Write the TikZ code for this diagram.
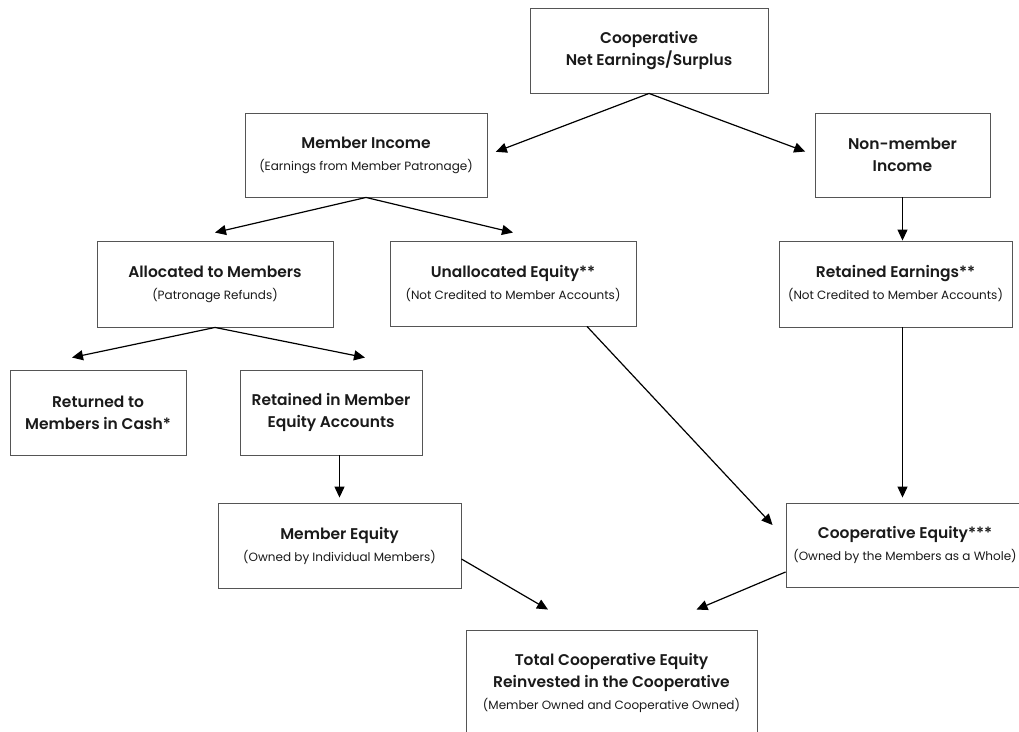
\documentclass[tikz,border=0pt]{standalone}
\usepackage{fontspec}
\setmainfont{Poppins}[BoldFont={Poppins SemiBold}]
\usetikzlibrary{arrows.meta,calc}
\definecolor{boxgray}{HTML}{555555}
\definecolor{inkblack}{HTML}{1A1A1A}
\newcommand{\ttl}[1]{{\fontsize{15.5}{22}\selectfont\bfseries #1}}
\tikzset{
  box/.style={draw=boxgray, line width=0.9pt, align=center, text=inkblack,
    font=\fontsize{12}{22}\selectfont, inner sep=2pt},
  arr/.style={-{Triangle[length=11pt,width=10pt]}, line width=1.2pt, black}
}
\begin{document}
\begin{tikzpicture}[x=1pt,y=-1pt]
  \clip (0,0) rectangle (1019,731);
  \fill[white] (0,0) rectangle (1019,731);
  % boxes, placed at their centres
  \node[box, minimum width=238pt, minimum height=85pt] (net) at (649,50.5)
    {\ttl{Cooperative}\\\ttl{Net Earnings/Surplus}};
  \node[box, minimum width=242pt, minimum height=84pt] (income) at (366,155)
    {\ttl{Member Income}\\(Earnings from Member Patronage)};
  \node[box, minimum width=175pt, minimum height=84pt] (nonmem) at (902.5,155)
    {\ttl{Non-member}\\\ttl{Income}};
  \node[box, minimum width=236pt, minimum height=86pt] (alloc) at (215,284)
    {\ttl{Allocated to Members}\\(Patronage Refunds)};
  \node[box, minimum width=246pt, minimum height=85pt] (unalloc) at (513,283.5)
    {\ttl{Unallocated Equity**}\\(Not Credited to Member Accounts)};
  \node[box, minimum width=233pt, minimum height=86pt] (retearn) at (895.5,284)
    {\ttl{Retained Earnings**}\\(Not Credited to Member Accounts)};
  \node[box, minimum width=176pt, minimum height=85pt] (cash) at (98,412.5)
    {\ttl{Returned to}\\\ttl{Members in Cash*}};
  \node[box, minimum width=182pt, minimum height=85pt] (retmem) at (331,412.5)
    {\ttl{Retained in Member}\\\ttl{Equity Accounts}};
  \node[box, minimum width=243pt, minimum height=85pt] (memeq) at (339.5,545.5)
    {\ttl{Member Equity}\\(Owned by Individual Members)};
  \node[box, minimum width=238pt, minimum height=84pt] (coopeq) at (905,545)
    {\ttl{Cooperative Equity***}\\(Owned by the Members as a Whole)};
  \node[box, minimum width=291pt, minimum height=106pt] (total) at (611.5,683)
    {\ttl{Total Cooperative Equity}\\\ttl{Reinvested in the Cooperative}\\(Member Owned and Cooperative Owned)};
  % connectors
  \draw[arr, shorten >=9pt] (net.south) -- (income.east);
  \draw[arr, shorten >=10pt] (net.south) -- (nonmem.west);
  \draw[arr] (income.south) -- ([yshift=8pt]alloc.north);
  \draw[arr] (income.south) -- ([yshift=8pt]unalloc.north);
  \draw[arr] (nonmem.south) -- (nonmem.south |- retearn.north);
  \draw[arr] (alloc.south) -- ([xshift=-26pt,yshift=12pt]cash.north);
  \draw[arr] (alloc.south) -- ([xshift=34pt,yshift=12pt]retmem.north);
  \draw[arr] (retmem.south -| memeq.north) -- ([yshift=5pt]memeq.north);
  \draw[arr] ([xshift=74pt]unalloc.south) -- ([xshift=-13pt,yshift=20pt]coopeq.west);
  \draw[arr] (nonmem.south |- retearn.south) -- ([yshift=5pt]nonmem.south |- coopeq.north);
  \draw[arr] ([yshift=-13.5pt]memeq.east) -- ([xshift=-63.5pt,yshift=20pt]total.north);
  \draw[arr] ([yshift=-27pt]coopeq.west) -- ([xshift=85pt,yshift=20pt]total.north);
\end{tikzpicture}
\end{document}
